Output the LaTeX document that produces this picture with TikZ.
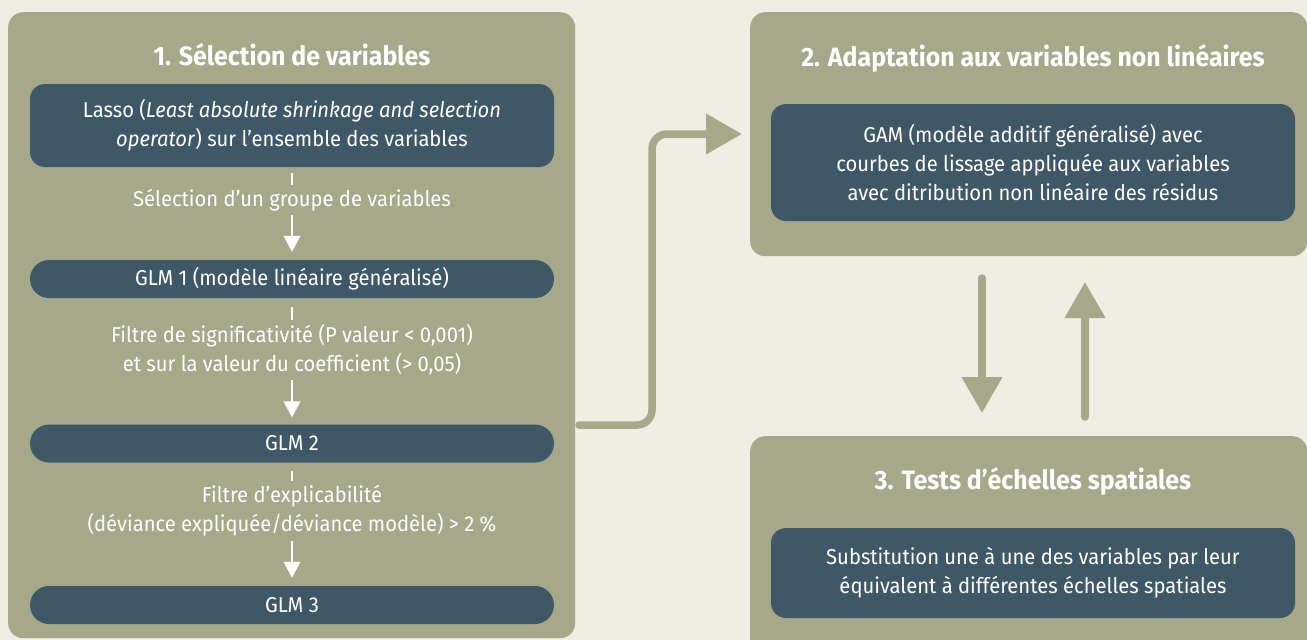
\documentclass[tikz,border=0pt]{standalone}
\usepackage{fontspec}
\setmainfont{Fira Sans}[FakeStretch=0.94]
\usetikzlibrary{arrows.meta}
\definecolor{bgc}{HTML}{F0EEE2}
\definecolor{panelc}{HTML}{A5A98A}
\definecolor{darkc}{HTML}{3E5868}
\tikzset{
  panel/.style={fill=panelc, rounded corners=15pt, inner sep=0pt, anchor=north west},
  ptitle/.style={text=white, font=\fontsize{26.5}{30}\selectfont\bfseries, anchor=base},
  box/.style={fill=darkc, text=white, rounded corners=15pt, inner sep=0pt, align=center,
    font=\fontsize{21.5}{29}\selectfont, minimum width=524pt},
  pill/.style={box, rounded corners=19pt, minimum height=38pt},
  lab/.style={text=white, inner sep=0pt, align=center, font=\fontsize{21.5}{29}\selectfont},
  wline/.style={draw=white, line width=2pt},
  warrow/.style={wline, -{Triangle[width=16.5pt,length=16pt]}},
  bigarrow/.style={draw=panelc, line width=7.5pt, line cap=round, -{Triangle[width=39pt,length=36pt]}}
}
\begin{document}
\begin{tikzpicture}[x=1pt,y=-1pt]
\fill[bgc] (0,0) rectangle (1307,640);
\useasboundingbox (0,0) rectangle (1307,640);

% panels
\node[panel, minimum width=567pt, minimum height=626pt] (p1) at (8,12) {};
\node[panel, minimum width=557pt, minimum height=244pt] (p2) at (750,12) {};
\node[panel, minimum width=557pt, minimum height=230pt] (p3) at (750,436) {};

% titles
\node[ptitle] (t1) at (292,65) {1. Sélection de variables};
\node[ptitle] (t2) at (1033,66) {2. Adaptation aux variables non linéaires};
\node[ptitle] (t3) at (1033,489) {3. Tests d’échelles spatiales};

% panel 1 content
\node[box, minimum height=83pt] (lasso) at (292,125.5)
  {Lasso (\textit{Least absolute shrinkage and selection}\\\textit{operator}) sur l’ensemble des variables};
\node[lab, minimum height=30pt] (l1) at (292,200) {Sélection d’un groupe de variables};
\node[pill] (g1) at (292,279) {GLM 1 (modèle linéaire généralisé)};
\node[lab, minimum height=60pt] (l2) at (292,350) {Filtre de significativité (P valeur < 0,001)\\et sur la valeur du coefficient (> 0,05)};
\node[pill] (g2) at (292,443.5) {GLM 2};
\node[lab, minimum height=60pt] (l3) at (292,511) {Filtre d’explicabilité\\(déviance expliquée/déviance modèle) > 2 \%};
\node[pill] (g3) at (292,605) {GLM 3};

\draw[wline] ([yshift=-6pt]lasso.south) -- (l1.north);
\draw[warrow] (l1.south) -- ([yshift=8pt]g1.north);
\draw[wline] ([yshift=-9pt]g1.south) -- (l2.north);
\draw[warrow] (l2.south) -- ([yshift=7pt]g2.north);
\draw[wline] ([yshift=-8pt]g2.south) -- (l3.north);
\draw[warrow] (l3.south) -- ([yshift=8pt]g3.north);

% panel 2 and 3 content
\node[box, minimum height=117pt] (gam) at (1033,162.5)
  {GAM (modèle additif généralisé) avec\\courbes de lissage appliquée aux variables\\avec ditribution non linéaire des résidus};
\node[box, minimum height=90pt] (subst) at (1033,573)
  {Substitution une à une des variables par leur\\équivalent à différentes échelles spatiales};

% big connectors
\coordinate (s1) at (579,425);
\coordinate (c1) at (652,134);
\coordinate (e1) at (742,134);
\draw[bigarrow, rounded corners=15pt] (s1) -| (c1) -- (e1);

\coordinate (d1) at (982,278);
\coordinate (d2) at (982,413);
\draw[bigarrow] (d1) -- (d2);
\coordinate (u1) at (1085,417);
\coordinate (u2) at (1085,282);
\draw[bigarrow] (u1) -- (u2);
\end{tikzpicture}
\end{document}
